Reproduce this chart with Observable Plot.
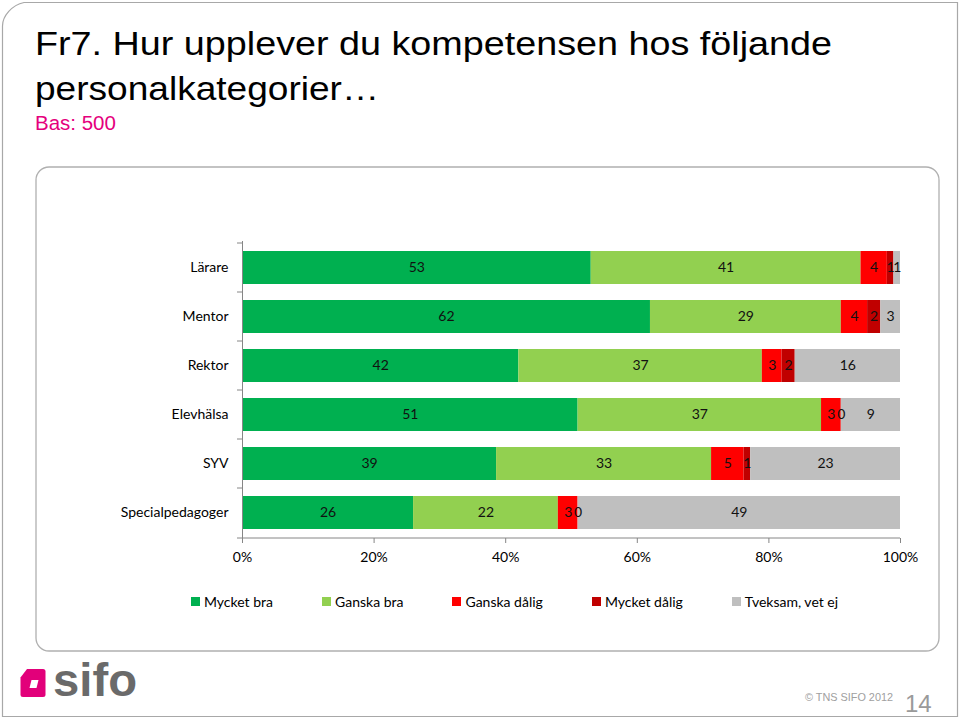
<!DOCTYPE html>
<html lang="sv">
<head>
<meta charset="utf-8">
<script src="https://cdn.jsdelivr.net/npm/d3@7"></script>
<script src="https://cdn.jsdelivr.net/npm/@observablehq/plot@0.6"></script>
<style>
html,body{margin:0;padding:0;background:#fff}
#page{position:relative;width:960px;height:719px;overflow:hidden;font-family:"Liberation Sans",Arial,sans-serif}
#chart{position:absolute;left:0;top:230px;z-index:1}
#deco{position:absolute;left:0;top:0;z-index:2;pointer-events:none}
#legend{position:absolute;left:191px;top:593px;display:flex;gap:49px;font-family:Lato,sans-serif;font-size:14px;line-height:17px;color:#000;z-index:3}
#legend .item{display:flex;align-items:center;white-space:nowrap}
#legend .sw{width:9px;height:9px;margin-right:4px;display:inline-block}
</style>
</head>
<body>
<div id="page">
  <div id="chart"></div>
  <svg id="deco" width="960" height="719" viewBox="0 0 960 719">
    <path d="M2.5,26 C2.5,16 12,5 24,2.5 L957.5,2.5 L957.5,716.5 L2.5,716.5 Z" fill="none" stroke="#a8a8a8" stroke-width="1.2"/>
    <rect x="36" y="167" width="903" height="484" rx="13" ry="13" fill="none" stroke="#b0b0b0" stroke-width="1.3"/>
    <text x="35" y="55" font-size="33.5" fill="#000" textLength="797" lengthAdjust="spacingAndGlyphs">Fr7. Hur upplever du kompetensen hos följande</text>
    <text x="35" y="100" font-size="33.5" fill="#000" textLength="344" lengthAdjust="spacingAndGlyphs">personalkategorier…</text>
    <text x="35" y="130" font-size="20.5" fill="#E5007D">Bas: 500</text>
    <path d="M27,669 L43,669 Q45.5,669 45.5,671.5 L45.5,694.5 Q45.5,697 43,697 L23,697 Q20.5,697 20.5,694.5 L20.5,677.5 Z" fill="#E2007A"/>
    <path d="M31.5,680 L38.5,680 L36.5,688 L29.5,688 Z" fill="#fff"/>
    <text x="53" y="696" font-size="47" font-weight="bold" fill="#6a6a6a" textLength="84" lengthAdjust="spacingAndGlyphs">sifo</text>
    <text x="805" y="700.5" font-size="11" fill="#a0a0a0" textLength="88" lengthAdjust="spacingAndGlyphs">© TNS SIFO 2012</text>
    <text x="905" y="712" font-size="24" fill="#9a9a9a">14</text>
  </svg>
  <div id="legend"></div>
</div>
<script>
const categories = ["Lärare", "Mentor", "Rektor", "Elevhälsa", "SYV", "Specialpedagoger"];
const seriesNames = ["Mycket bra", "Ganska bra", "Ganska dålig", "Mycket dålig", "Tveksam, vet ej"];
const seriesColors = ["#00B050", "#92D050", "#FF0000", "#C00000", "#BFBFBF"];
const mycketBra   = [53, 62, 42, 51, 39, 26];
const ganskaBra   = [41, 29, 37, 37, 33, 22];
const ganskaDalig = [4, 4, 3, 3, 5, 3];
const mycketDalig = [1, 2, 2, 0, 1, 0];
const tveksam     = [1, 3, 16, 9, 23, 49];
const xTicks = [0, 0.2, 0.4, 0.6, 0.8, 1];

const seriesValues = [mycketBra, ganskaBra, ganskaDalig, mycketDalig, tveksam];
const rows = categories.flatMap((cat, i) =>
  seriesNames.map((s, j) => ({cat, series: s, value: seriesValues[j][i]})));

const axisColor = "#868686";

const axisLines = (index, scales, values, dims) => {
  const g = d3.create("svg:g").attr("stroke", axisColor).attr("fill", "none");
  const yB = dims.height - dims.marginBottom;
  const x0 = scales.x(0), x1 = scales.x(1);
  g.append("line").attr("x1", x0).attr("x2", x1).attr("y1", yB).attr("y2", yB);
  const y = scales.y;
  const bw = y.bandwidth();
  const step = y(categories[1]) - y(categories[0]);
  const bounds = categories.map(c => y(c) - (step - bw) / 2).concat([yB]);
  for (const b of bounds) {
    g.append("line").attr("x1", x0 - 5).attr("x2", x0).attr("y1", b).attr("y2", b);
  }
  return g.node();
};

const stackOpts = extra => Plot.stackX({x: "value", y: "cat", z: "series", order: seriesNames, offset: "normalize", ...extra});

const chart = Plot.plot({
  width: 960,
  height: 345,
  marginLeft: 242,
  marginRight: 60,
  marginTop: 11,
  marginBottom: 37,
  style: {fontFamily: "Lato, sans-serif", fontSize: "14px", color: "#000", background: "transparent"},
  x: {domain: [0, 1], label: null},
  y: {domain: categories, paddingInner: 0.33, paddingOuter: 0.165, label: null},
  color: {domain: seriesNames, range: seriesColors},
  marks: [
    Plot.barX(rows, stackOpts({fill: "series"})),
    Plot.textX(rows, stackOpts({text: d => String(d.value), fill: "#111", fontSize: 14})),
    Plot.ruleX([0], {stroke: axisColor}),
    axisLines,
    Plot.axisX({ticks: xTicks, tickFormat: d3.format(".0%"), tickSize: 5, tickPadding: 9, stroke: axisColor, label: null, fontSize: 14}),
    Plot.axisY({tickSize: 0, tickPadding: 14, label: null, fontSize: 14})
  ]
});
document.getElementById("chart").appendChild(chart);

const legend = d3.select("#legend");
seriesNames.forEach((s, i) => {
  const it = legend.append("div").attr("class", "item");
  it.append("span").attr("class", "sw").style("background", seriesColors[i]);
  it.append("span").text(s);
});
</script>
</body>
</html>
